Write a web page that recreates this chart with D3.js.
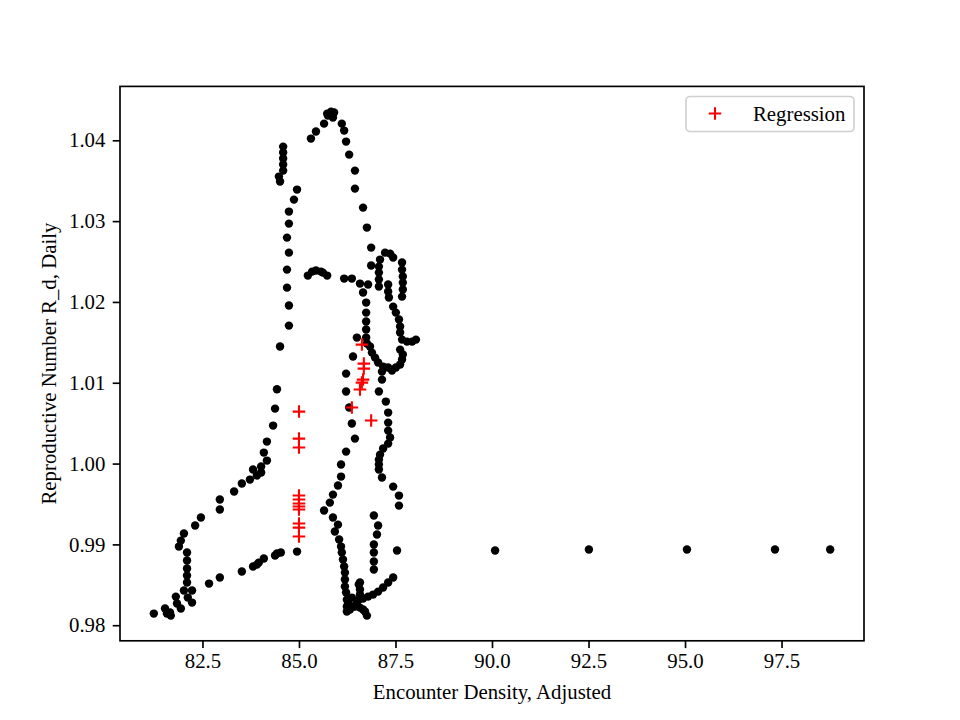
<!DOCTYPE html>
<html><head><meta charset="utf-8">
<script src="https://cdn.jsdelivr.net/npm/d3@7"></script>
<style>body{margin:0;background:#fff}</style>
</head><body>
<svg id="chart" width="960" height="720"></svg>
<script>
// Observed (black dots)
const densityX = [
81.24,81.53,81.58,81.66,81.68,81.81,81.84,81.94,82.12,82.23,82.23,82.02,82.10,82.10,82.10,82.10,82.10,81.89,81.94,82.02,82.31,82.46,82.95,82.95,83.32,83.52,83.73,83.81,83.91,84.02,84.02,84.17,84.09,84.17,84.33,84.38,84.43,
82.67,82.95,83.52,83.81,83.91,83.96,84.09,84.38,84.43,84.53,84.95,
84.51,84.74,84.74,84.69,84.69,84.74,84.69,84.74,84.74,84.87,84.95,84.51,84.48,84.59,84.59,84.59,84.59,84.59,
85.31,85.44,85.65,85.73,85.83,85.91,85.88,85.75,86.11,86.17,86.22,86.30,86.45,86.45,86.66,86.76,86.87,86.87,
85.23,85.34,85.44,85.57,85.62,85.73,86.17,86.37,86.58,86.79,86.66,
86.74,86.74,86.74,86.74,86.74,86.50,86.76,86.40,86.22,86.22,86.30,86.37,86.45,86.22,86.09,86.09,86.01,85.88,85.80,85.65,85.88,86.01,85.93,86.04,86.09,86.11,86.14,86.17,86.19,86.19,86.19,86.22,86.24,86.24,
86.55,86.58,86.58,86.55,86.50,86.40,86.32,86.24,86.27,86.37,86.45,86.58,86.71,86.76,86.66,86.58,
86.66,86.79,86.92,87.05,87.18,87.31,87.44,
86.94,86.94,86.94,86.94,87.02,87.05,86.94,87.54,
87.59,87.59,87.44,87.15,87.07,87.07,87.07,87.10,87.18,87.31,87.36,87.31,87.31,87.31,87.25,87.07,87.15,87.15,87.41,
86.84,86.89,86.97,87.05,87.18,87.31,87.51,87.62,87.67,87.69,87.62,
87.67,87.80,87.93,88.03,87.62,87.62,87.59,87.51,87.44,87.33,87.31,87.31,
87.10,87.07,87.07,87.07,87.07,87.23,87.36,87.44,87.67,87.67,87.69,87.69,87.69,87.67,
90.08,92.51,95.05,97.33,98.76
];
const rateY = [
0.98144,0.98206,0.98144,0.98157,0.98119,0.98354,0.98268,0.98206,0.98342,0.98280,0.98429,0.98429,0.98528,0.98614,0.98701,0.98800,0.98899,0.98973,0.99047,0.99134,0.99233,0.99332,0.99431,0.99555,0.99654,0.99753,0.99802,0.99926,0.99852,0.99889,0.99963,1.00037,1.00136,1.00272,1.00470,1.00680,1.00920,
0.98515,0.98590,0.98664,0.98726,0.98750,0.98775,0.98825,0.98862,0.98887,0.98899,0.98911,
1.01448,1.01707,1.01955,1.02177,1.02400,1.02610,1.02796,1.02969,1.03118,1.03266,1.03390,1.03489,1.03551,1.03625,1.03700,1.03774,1.03848,1.03922,
1.04021,1.04108,1.04206,1.04330,1.04355,1.04343,1.04281,1.04305,1.04206,1.04120,1.03984,1.03823,1.03625,1.03402,1.03167,1.02920,1.02672,1.02450,
1.02326,1.02375,1.02388,1.02375,1.02363,1.02326,1.02289,1.02289,1.02227,1.02215,1.02116,
1.01992,1.01868,1.01757,1.01658,1.01559,1.01559,1.01485,1.01324,1.01113,1.00891,1.00693,1.00495,1.00309,1.00148,0.99988,0.99839,0.99728,0.99616,0.99517,0.99419,0.99332,0.99245,0.99159,0.99060,0.98973,0.98899,0.98812,0.98726,0.98651,0.98565,0.98478,0.98404,0.98317,0.98231,
0.98503,0.98441,0.98379,0.98317,0.98280,0.98231,0.98194,0.98169,0.98293,0.98342,0.98231,0.98218,0.98169,0.98119,0.98194,0.98528,
0.98330,0.98354,0.98379,0.98416,0.98466,0.98528,0.98590,
0.98689,0.98788,0.98899,0.98998,0.99122,0.99233,0.99357,0.98924,
0.99480,0.99604,0.99715,0.99827,0.99926,0.99988,1.00049,1.00111,1.00186,1.00247,1.00322,1.00408,1.00507,1.00631,1.00767,1.00891,1.01039,1.01138,1.01151,
1.01448,1.01373,1.01311,1.01250,1.01200,1.01188,1.01188,1.01225,1.01287,1.01349,1.01410,
1.01534,1.01509,1.01509,1.01534,1.01621,1.01695,1.01782,1.01868,1.01942,1.02054,1.02128,1.02215,
1.02524,1.02437,1.02363,1.02277,1.02190,1.02610,1.02598,1.02549,1.02487,1.02400,1.02314,1.02239,1.02153,1.02066,
0.98924,0.98936,0.98936,0.98936,0.98936
];
// Regression (red +)
const regX = [85.0,85.0,85.0,85.0,85.0,85.0,85.0,85.0,85.0,85.0,85.0,86.63,86.68,86.68,86.66,86.63,86.58,86.37,86.87];
const regY = [1.00643,1.00309,1.00198,0.99604,0.99555,0.99505,0.99468,0.99431,0.99258,0.99208,0.99097,1.01472,1.01237,1.01175,1.01039,1.01002,1.00916,1.00693,1.00532];

const xTicks = [82.5,85.0,87.5,90.0,92.5,95.0,97.5];
const yTicks = [0.98,0.99,1.00,1.01,1.02,1.03,1.04];
const xLabel = "Encounter Density, Adjusted";
const yLabel = "Reproductive Number R_d, Daily";
const legendLabel = "Regression";

const W = 960, H = 720;
const L = 120, R = 864, T = 86.4, B = 640.8;
const FONT = "'Liberation Serif','Times New Roman',serif";
const FS = 20.8;

const allX = densityX.concat(regX), allY = rateY.concat(regY);
function padded(arr){ const lo=d3.min(arr), hi=d3.max(arr), p=(hi-lo)*0.05; return [lo-p, hi+p]; }
const x = d3.scaleLinear().domain(padded(allX)).range([L, R]);
const y = d3.scaleLinear().domain(padded(allY)).range([B, T]);

const svg = d3.select("#chart");
svg.append("rect").attr("width",W).attr("height",H).attr("fill","#fff");

// points
const obs = d3.range(densityX.length).map(i => [densityX[i], rateY[i]]);
svg.append("g").selectAll("circle").data(obs).join("circle")
  .attr("cx", d => x(d[0])).attr("cy", d => y(d[1])).attr("r", 4.2).attr("fill", "#000");

const reg = d3.range(regX.length).map(i => [regX[i], regY[i]]);
const ps = 6.25;
const plusPath = `M${-ps},0H${ps}M0,${-ps}V${ps}`;
svg.append("g").selectAll("path").data(reg).join("path")
  .attr("transform", d => `translate(${x(d[0])},${y(d[1])})`)
  .attr("d", plusPath).attr("stroke", "#ff0000").attr("stroke-width", 2.08).attr("fill", "none");

// axes
const xAxis = d3.axisBottom(x).tickValues(xTicks).tickFormat(d3.format(".1f")).tickSize(7.3).tickPadding(5.5);
const yAxis = d3.axisLeft(y).tickValues(yTicks).tickFormat(d3.format(".2f")).tickSize(7.3).tickPadding(7.3);
const gx = svg.append("g").attr("transform", `translate(0,${B})`).call(xAxis);
const gy = svg.append("g").attr("transform", `translate(${L},0)`).call(yAxis);
[gx, gy].forEach(g => {
  g.select(".domain").remove();
  g.selectAll(".tick line").attr("stroke", "#000").attr("stroke-width", 1.67);
  g.selectAll(".tick text").attr("fill", "#000").style("font-family", FONT).style("font-size", FS + "px");
});
gy.selectAll(".tick text").attr("dy", "0.32em");

// frame
svg.append("rect").attr("x", L).attr("y", T).attr("width", R - L).attr("height", B - T)
  .attr("fill", "none").attr("stroke", "#000").attr("stroke-width", 1.67);

// labels
svg.append("text").attr("x", (L + R) / 2).attr("y", 699).attr("text-anchor", "middle")
  .style("font-family", FONT).style("font-size", FS + "px").text(xLabel);
svg.append("text").attr("transform", `translate(56,${(T + B) / 2}) rotate(-90)`).attr("text-anchor", "middle")
  .style("font-family", FONT).style("font-size", FS + "px").text(yLabel);

// legend
const lg = svg.append("g");
lg.append("rect").attr("x", 686).attr("y", 96.5).attr("width", 168).attr("height", 35).attr("rx", 4)
  .attr("fill", "#fff").attr("fill-opacity", 0.8).attr("stroke", "#d0d0d0").attr("stroke-width", 1.67);
lg.append("path").attr("transform", "translate(715,113.5)").attr("d", plusPath)
  .attr("stroke", "#ff0000").attr("stroke-width", 2.08).attr("fill", "none");
lg.append("text").attr("x", 753).attr("y", 120.5).style("font-family", FONT).style("font-size", FS + "px").text(legendLabel);
</script>
</body></html>
